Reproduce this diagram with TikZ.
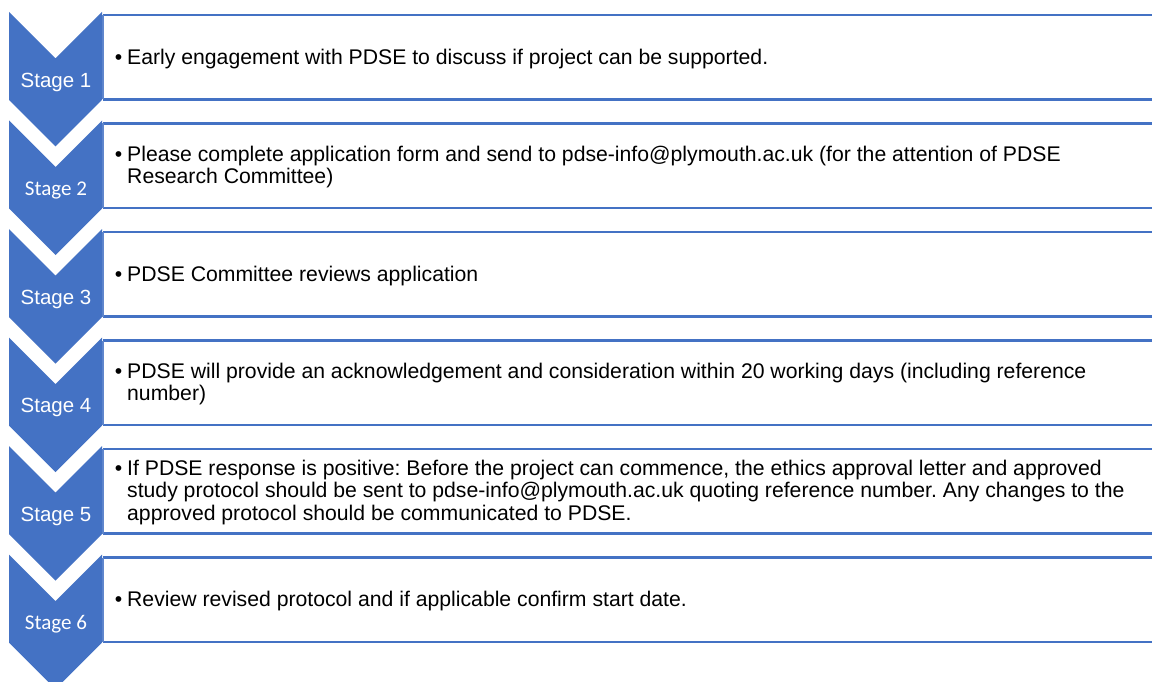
\documentclass[tikz,border=0pt]{standalone}
\usepackage{fontspec}
\setmainfont{Liberation Sans}
\newfontfamily\calib{Carlito}
\definecolor{accent}{HTML}{4472C4}
\frenchspacing
\begin{document}
\begin{tikzpicture}[x=1pt,y=-1pt,
  chev/.style={fill=accent, draw=none},
  stagebox/.style={fill=white, draw=none, minimum width=1062pt, minimum height=84.5pt, anchor=north west, inner sep=0pt, outer sep=0pt},
  boxedge/.style={draw=accent, line width=2.6pt},
  boxside/.style={draw=accent!85, line width=1.2pt},
  stagelabel/.style={text=white, inner sep=0pt, font=\fontsize{20.5}{24}\selectfont},
  stagelabelc/.style={text=white, inner sep=0pt, font=\calib\fontsize{21}{24}\selectfont},
  info/.style={anchor=west, align=left, inner sep=0pt, text=black, font=\frenchspacing\fontsize{21.2}{22.6}\selectfont}]
\useasboundingbox (0,0) rectangle (1152,682);
\clip (0,0) rectangle (1152,682);
\fill[white] (0,0) rectangle (1152,682);
% boxes
\foreach \k in {0,...,5}{
  \node[stagebox] (b\k) at (103,{15+108.5*\k}) {};
  \draw[boxedge] (b\k.north west) -- (b\k.north east);
  \draw[boxedge] (b\k.south west) -- (b\k.south east);
  \draw[boxside] (b\k.north west) -- (b\k.south west);
}
% chevrons
\foreach \k in {0,...,5}{
  \pgfmathsetmacro{\yt}{12+108.5*\k}
  \fill[chev] (9,\yt) -- (55.5,\yt+46.5) -- (102,\yt) -- (102,\yt+88) -- (55.5,\yt+134.5) -- (9,\yt+88) -- cycle;
}
% stage labels
\node[stagelabel]  (s1) at (56,{12+70})  {Stage 1};
\node[stagelabelc] (s2) at (56,{120.5+70}) {Stage 2};
\node[stagelabel]  (s3) at (56,{229+70}) {Stage 3};
\node[stagelabel]  (s4) at (56,{337.5+70}) {Stage 4};
\node[stagelabel]  (s5) at (56,{446+70}) {Stage 5};
\node[stagelabelc] (s6) at (56,{554.5+70}) {Stage 6};
% texts
\newcommand{\bul}{\llap{\textbullet\hspace{5pt}}}
\node[info] (t1) at (127,{59}) {\bul Early engagement with PDSE to discuss if project can be supported.};
\node[info] (t2) at (127,{58.5+108.5}) {\bul Please complete application form and send to pdse-info@plymouth.ac.uk (for the attention of PDSE\\Research Committee)};
\node[info] (t3) at (127,{59+217}) {\bul PDSE Committee reviews application};
\node[info] (t4) at (127,{58.5+325.5}) {\bul PDSE will provide an acknowledgement and consideration within 20 working days (including reference\\number)};
\node[info] (t5) at (127,{58.5+434}) {\bul If PDSE response is positive: Before the project can commence, the ethics approval letter and approved\\study protocol should be sent to pdse-info@plymouth.ac.uk quoting reference number. Any changes to the\\approved protocol should be communicated to PDSE.};
\node[info] (t6) at (127,{59+542.5}) {\bul Review revised protocol and if applicable confirm start date.};
\end{tikzpicture}
\end{document}
